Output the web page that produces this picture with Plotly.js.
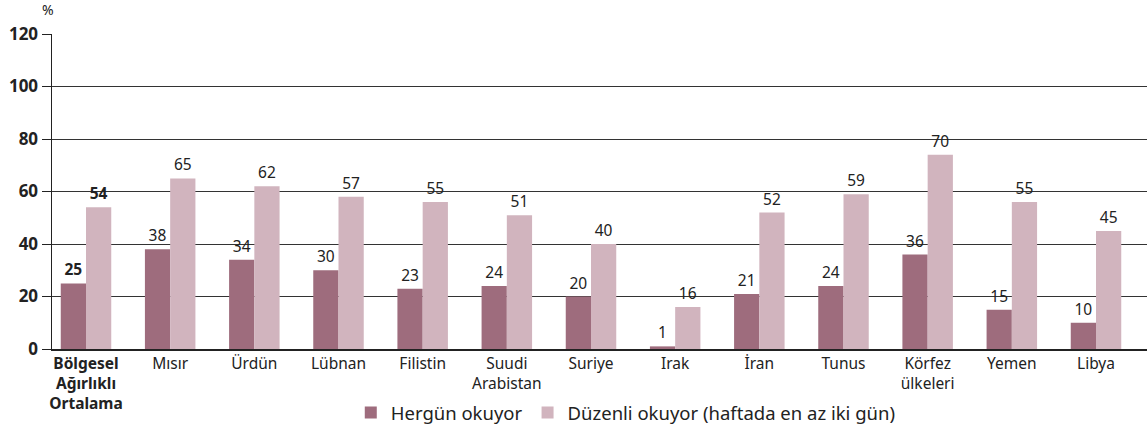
<!DOCTYPE html>
<html>
<head>
<meta charset="utf-8">
<script src="https://cdn.plot.ly/plotly-3.0.1.min.js"></script>
<style>html,body{margin:0;padding:0;background:#fff;}#chart{width:1147px;height:432px;}</style>
</head>
<body>
<div id="chart"></div>
<script>
const categories = ["<b>Bölgesel</b><br><b>Ağırlıklı</b><br><b>Ortalama</b>", "Mısır", "Ürdün", "Lübnan", "Filistin", "Suudi<br>Arabistan", "Suriye", "Irak", "İran", "Tunus", "Körfez<br>ülkeleri", "Yemen", "Libya"];
const dailyValues = [25, 38, 34, 30, 23, 24, 20, 1, 21, 24, 36, 15, 10];
const regularValues = [54, 65, 62, 58, 56, 51, 40, 16, 52, 59, 74, 56, 45];
const dailyLabels = ["<b>25</b>", "38", "34", "30", "23", "24", "20", "1", "21", "24", "36", "15", "10"];
const regularLabels = ["<b>54</b>", "65", "62", "57", "55", "51", "40", "16", "52", "59", "70", "55", "45"];
const seriesNames = ["Hergün okuyor", "Düzenli okuyor (haftada en az iki gün)"];
const yTicks = [0, 20, 40, 60, 80, 100, 120];

const FONT = "'Noto Sans', 'Open Sans', sans-serif";
const traces = [
  {type: "bar", name: seriesNames[0], x: categories, y: dailyValues, text: dailyLabels,
   textposition: "outside", cliponaxis: false, marker: {color: "#9e6c7d"},
   textfont: {family: FONT, size: 15.5, color: "#222"}, hoverinfo: "none"},
  {type: "bar", name: seriesNames[1], x: categories, y: regularValues, text: regularLabels,
   textposition: "outside", cliponaxis: false, marker: {color: "#d1b4be"},
   textfont: {family: FONT, size: 15.5, color: "#222"}, hoverinfo: "none"}
];
const layout = {
  width: 1147, height: 432,
  margin: {l: 52, r: 0, t: 34, b: 83},
  paper_bgcolor: "#fff", plot_bgcolor: "#fff",
  font: {family: FONT, color: "#222", size: 14},
  barmode: "group", bargap: 0.4, bargroupgap: 0,
  showlegend: true,
  legend: {orientation: "h", x: 0.524, xanchor: "center", y: -0.205, yanchor: "middle",
           font: {family: FONT, size: 18.5, color: "#222"}, itemwidth: 30, traceorder: "normal"},
  xaxis: {range: [-0.404, 12.606], showline: true, linecolor: "#222", linewidth: 1.5,
          ticks: "", tickfont: {family: FONT, size: 15.5, color: "#222"}, fixedrange: true},
  yaxis: {range: [0, 120], tickvals: yTicks, ticktext: yTicks.map(String),
          showgrid: true, gridcolor: "#333", gridwidth: 1,
          showline: true, linecolor: "#222", linewidth: 1.5,
          ticks: "outside", ticklen: 9, tickcolor: "#222", tickwidth: 1,
          tickfont: {family: FONT, size: 17, color: "#222", weight: "bold"},
          zeroline: false, fixedrange: true},
  annotations: [{text: "%", xref: "paper", yref: "paper", x: -0.004, y: 1.078,
                 xanchor: "center", yanchor: "middle", showarrow: false,
                 font: {family: FONT, size: 14, color: "#222"}}]
};
Plotly.newPlot("chart", traces, layout, {displayModeBar: false, staticPlot: true});
</script>
</body>
</html>
